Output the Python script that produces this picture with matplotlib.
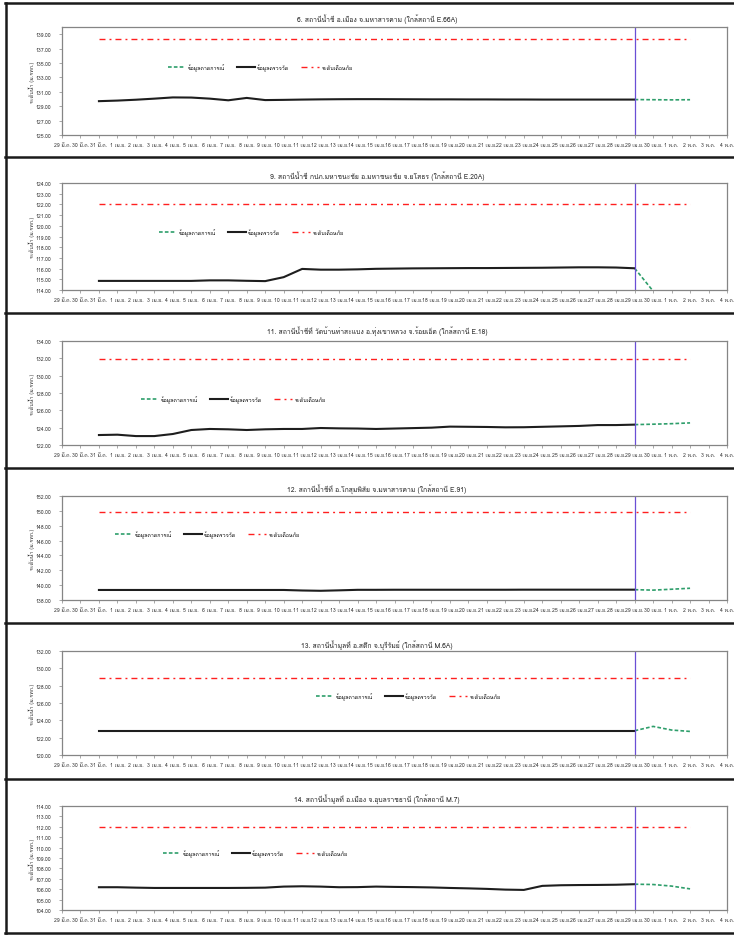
# Water level charts, 6 stations (Chi / Mun rivers) -- observed, forecast, warning level
import matplotlib
matplotlib.use("Agg")
import matplotlib.pyplot as plt
from matplotlib import font_manager, ft2font
from matplotlib.lines import Line2D
import numpy as np


def find_thai_font():
    seen = set()
    for f in font_manager.fontManager.ttflist:
        if f.fname in seen:
            continue
        seen.add(f.fname)
        try:
            cmap = ft2font.FT2Font(f.fname).get_charmap()
        except Exception:
            continue
        if 0x0E2A in cmap and 0x0E49 in cmap and 0x0E33 in cmap:
            return f.name
    return None


THAI = find_thai_font()
plt.rcParams["font.family"] = [THAI, "DejaVu Sans"] if THAI else ["DejaVu Sans"]

# %% data
DATES = (["29 มี.ค.", "30 มี.ค.", "31 มี.ค."]
         + [f"{d} เม.ย." for d in range(1, 31)]
         + [f"{d} พ.ค." for d in range(1, 5)])
OBS_FROM = "31 มี.ค."
FC_FROM = "29 เม.ย."
WARN_FROM, WARN_TO = "31 มี.ค.", "2 พ.ค."
NOW = "29 เม.ย."

TITLES = [
    "6. สถานีน้ำชี อ.เมือง จ.มหาสารคาม (ใกล้สถานี E.66A)",
    "9. สถานีน้ำชี กปภ.มหาชนะชัย อ.มหาชนะชัย จ.ยโสธร (ใกล้สถานี E.20A)",
    "11. สถานีน้ำชีที่ วัดบ้านท่าสะแบง อ.ทุ่งเขาหลวง จ.ร้อยเอ็ด (ใกล้สถานี E.18)",
    "12. สถานีน้ำชีที่ อ.โกสุมพิสัย จ.มหาสารคาม (ใกล้สถานี E.91)",
    "13. สถานีน้ำมูลที่ อ.สตึก จ.บุรีรัมย์ (ใกล้สถานี M.6A)",
    "14. สถานีน้ำมูลที่ อ.เมือง จ.อุบลราชธานี (ใกล้สถานี M.7)",
]
YLABEL = "ระดับน้ำ (ม.รทก.)"
LEG_LABELS = ["ข้อมูลคาดการณ์", "ข้อมูลตรวจวัด", "ระดับเตือนภัย"]

WARN = [138.4, 122.0, 131.9, 149.8, 128.9, 112.0]
YMIN = [125, 114, 122, 138, 120, 104]
YMAX = [140, 124, 134, 152, 132, 114]
YSTEP = [2, 1, 2, 2, 2, 1]

OBS_E66A = [129.70, 129.78, 129.90, 130.05, 130.22, 130.20, 130.05, 129.82, 130.15, 129.85,
            129.88, 129.92, 129.95, 129.97, 129.98, 129.98, 129.97, 129.96, 129.95, 129.95,
            129.94, 129.94, 129.93, 129.93, 129.92, 129.92, 129.92, 129.92, 129.92, 129.92]
OBS_E20A = [114.85, 114.85, 114.85, 114.85, 114.85, 114.85, 114.90, 114.90, 114.86, 114.83,
            115.20, 115.97, 115.90, 115.90, 115.93, 115.98, 116.00, 116.02, 116.03, 116.04,
            116.05, 116.05, 116.06, 116.07, 116.08, 116.10, 116.12, 116.12, 116.10, 116.03]
OBS_E18 = [123.15, 123.19, 123.03, 123.03, 123.27, 123.73, 123.85, 123.81, 123.73, 123.81,
           123.85, 123.85, 123.96, 123.92, 123.90, 123.85, 123.90, 123.95, 124.00, 124.12,
           124.10, 124.08, 124.04, 124.05, 124.10, 124.15, 124.20, 124.30, 124.30, 124.35]
OBS_E91 = [139.35, 139.35, 139.35, 139.35, 139.35, 139.35, 139.35, 139.35, 139.35, 139.35,
           139.35, 139.28, 139.24, 139.30, 139.37, 139.37, 139.38, 139.38, 139.38, 139.38,
           139.38, 139.38, 139.38, 139.39, 139.39, 139.39, 139.39, 139.39, 139.39, 139.39]
OBS_M6A = [122.80] * 30
OBS_M7 = [106.19, 106.19, 106.15, 106.12, 106.12, 106.12, 106.12, 106.12, 106.13, 106.15,
          106.25, 106.28, 106.25, 106.19, 106.20, 106.25, 106.22, 106.20, 106.17, 106.12,
          106.08, 106.03, 105.96, 105.93, 106.32, 106.38, 106.40, 106.41, 106.43, 106.48]

FC_E66A = [129.92, 129.90, 129.88, 129.90]
FC_E20A = [116.03, 113.90, 113.80, 113.70]
FC_E18 = [124.35, 124.40, 124.46, 124.55]
FC_E91 = [139.39, 139.33, 139.45, 139.58]
FC_M6A = [122.80, 123.30, 122.88, 122.72]
FC_M7 = [106.48, 106.45, 106.30, 106.03]

OBS = [OBS_E66A, OBS_E20A, OBS_E18, OBS_E91, OBS_M6A, OBS_M7]
FC = [FC_E66A, FC_E20A, FC_E18, FC_E91, FC_M6A, FC_M7]

# %% layout (pixels in a 734 x 937 canvas)
W, H = 734, 937
PLOT_L, PLOT_R = 62, 727
PLOT_TOP = [28, 184, 342, 497, 652, 807]
PLOT_BOT = [136, 291, 446, 601, 756, 911]
TITLE_Y = [19, 176, 331, 489, 645, 799]
LEG_XY = [(260, 68), (251, 233), (233, 400), (207, 535), (408, 697), (255, 854)]
FRAME_Y = [4, 158, 314, 469, 624, 780, 934]

RED, BLACK, GREEN, PURPLE, GREY = "#FF1F1F", "#1E1E1E", "#2E9E6B", "#6A4FD6", "#858585"

fig = plt.figure(figsize=(W / 100, H / 100), dpi=100)
fig.patch.set_facecolor("white")

x_all = np.arange(len(DATES))
i_obs = DATES.index(OBS_FROM)
i_fc = DATES.index(FC_FROM)
i_w0, i_w1 = DATES.index(WARN_FROM), DATES.index(WARN_TO)
i_now = DATES.index(NOW)

for k in range(6):
    ax = fig.add_axes([PLOT_L / W, 1 - PLOT_BOT[k] / H,
                       (PLOT_R - PLOT_L) / W, (PLOT_BOT[k] - PLOT_TOP[k]) / H])
    xo = x_all[i_obs:i_obs + len(OBS[k])]
    xf = x_all[i_fc:i_fc + len(FC[k])]
    xw = x_all[i_w0:i_w1 + 1]
    lf, = ax.plot(xf, FC[k], color=GREEN, lw=1.2, dashes=(2.2, 1.3))
    lo, = ax.plot(xo, OBS[k], color=BLACK, lw=1.5, solid_joinstyle="round")
    lw_, = ax.plot(xw, [WARN[k]] * len(xw), color=RED, lw=1.0, dashes=(4.3, 2.9, 1.4, 2.9))
    ax.axvline(x_all[i_now], color=PURPLE, lw=0.9)

    ax.set_xlim(0, len(DATES) - 1)
    ax.set_ylim(YMIN[k], YMAX[k])
    ax.set_yticks(np.arange(YMIN[k], YMAX[k] + 0.001, YSTEP[k]))
    ax.yaxis.set_major_formatter(matplotlib.ticker.FormatStrFormatter("%.2f"))
    ax.set_xticks(x_all)
    ax.set_xticklabels(DATES)
    ax.tick_params(axis="both", labelsize=3.7, colors=GREY, labelcolor="#333333",
                   length=2.0, width=0.5)
    ax.tick_params(axis="y", pad=6)
    ax.tick_params(axis="x", pad=3)
    for s in ax.spines.values():
        s.set_color(GREY)
        s.set_linewidth(0.9)

    fig.text(32 / W, 1 - (PLOT_TOP[k] + PLOT_BOT[k]) / 2 / H, YLABEL, rotation=90,
             ha="center", va="center", fontsize=3.9, color="#333333")
    fig.text(377 / W, 1 - TITLE_Y[k] / H, TITLES[k], ha="center", va="center",
             fontsize=4.9, color="#222222")
    lx, ly = LEG_XY[k]
    ax.legend([lf, lo, lw_], LEG_LABELS, loc="center", bbox_to_anchor=(lx / W, 1 - ly / H),
              bbox_transform=fig.transFigure, ncol=3, frameon=False, fontsize=3.8,
              handlelength=3.4, handletextpad=0.4, columnspacing=2.3, borderpad=0)

# black frames round every chart
for y in FRAME_Y:
    fig.add_artist(Line2D([5 / W, 1], [1 - y / H] * 2, color="#1A1A1A", lw=1.8))
fig.add_artist(Line2D([6 / W] * 2, [1 - FRAME_Y[0] / H, 1 - FRAME_Y[-1] / H],
                      color="#1A1A1A", lw=1.8))

fig.savefig("out.png", dpi=100)
